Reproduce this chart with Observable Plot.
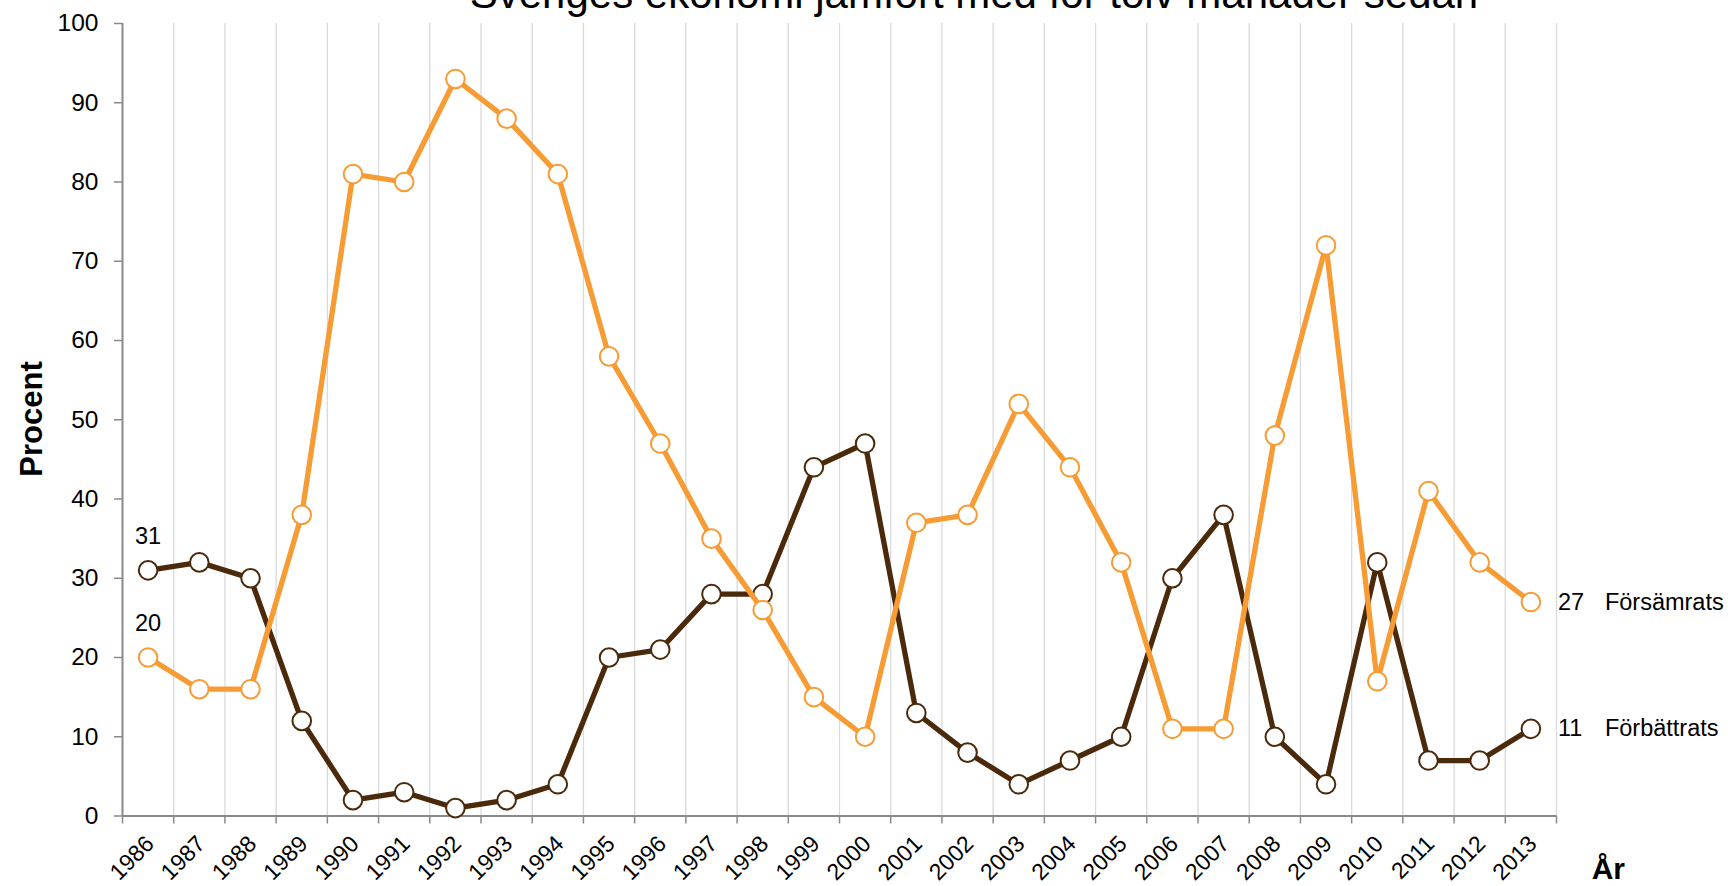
<!DOCTYPE html>
<html>
<head>
<meta charset="utf-8">
<script src="https://cdn.jsdelivr.net/npm/d3@7"></script>
<script src="https://cdn.jsdelivr.net/npm/@observablehq/plot@0.6"></script>
<style>
  html, body { margin: 0; padding: 0; background: #fff; overflow: hidden; }
  svg { display: block; }
</style>
</head>
<body>
<div id="chart"></div>
<script>
const titleText = "Sveriges ekonomi jämfört med för tolv månader sedan";
const yLabel = "Procent";
const xLabel = "År";
const years = [1986,1987,1988,1989,1990,1991,1992,1993,1994,1995,1996,1997,1998,1999,2000,2001,2002,2003,2004,2005,2006,2007,2008,2009,2010,2011,2012,2013];
const forbattrats = [31,32,30,12,2,3,1,2,4,20,21,28,28,44,47,13,8,4,7,10,30,38,10,4,32,7,7,11];
const forsamrats = [20,16,16,38,81,80,93,88,81,58,47,35,26,15,10,37,38,52,44,32,11,11,48,72,17,41,32,27];
const seriesNames = ["Förbättrats", "Försämrats"];
const yTicks = [0,10,20,30,40,50,60,70,80,90,100];

const brown = "#4B2A0C";
const orange = "#F79B34";
const axisGray = "#898989";
const gridGray = "#dadada";

const rowsB = years.map((year, i) => ({year, value: forbattrats[i], series: seriesNames[0]}));
const rowsO = years.map((year, i) => ({year, value: forsamrats[i], series: seriesNames[1]}));
const boundaries = years.map(y => y - 0.5).concat([years[years.length - 1] + 0.5]);

const fontFamily = "'Liberation Sans', Arial, Helvetica, sans-serif";

const plot = Plot.plot({
  width: 1728,
  height: 886,
  marginLeft: 122,
  marginRight: 172,
  marginTop: 23,
  marginBottom: 70.5,
  x: {type: "linear", domain: [boundaries[0], boundaries[boundaries.length - 1]]},
  y: {domain: [0, 100]},
  style: {fontFamily, fontSize: "24px", background: "white", color: "black"},
  marks: [
    Plot.ruleX(boundaries.slice(1), {y1: 0, y2: 100, stroke: gridGray, strokeWidth: 1.3}),
    Plot.axisY({ticks: yTicks, tickSize: 8, tickPadding: 16, fontSize: 24.5, stroke: axisGray, strokeWidth: 1.5, fill: "black", label: null, tickFormat: d => String(d)}),
    Plot.axisX({ticks: boundaries, tickSize: 8, tickFormat: () => "", stroke: axisGray, strokeWidth: 1.5, label: null}),
    Plot.ruleX([boundaries[0]], {stroke: axisGray, strokeWidth: 2}),
    Plot.ruleY([0], {stroke: axisGray, strokeWidth: 2}),
    Plot.text(years, {x: d => d, y: () => 0, text: d => String(d), rotate: -45, textAnchor: "end", dx: 2, dy: 24, fontSize: 23, fill: "black"}),
    Plot.line(rowsB, {x: "year", y: "value", stroke: brown, strokeWidth: 5.3}),
    Plot.dot(rowsB, {x: "year", y: "value", r: 9.3, fill: "white", stroke: brown, strokeWidth: 2}),
    Plot.line(rowsO, {x: "year", y: "value", stroke: orange, strokeWidth: 5.3}),
    Plot.dot(rowsO, {x: "year", y: "value", r: 9.3, fill: "white", stroke: orange, strokeWidth: 2}),
    Plot.text([rowsB[0], rowsO[0]], {x: "year", y: "value", text: d => String(d.value), dy: -34, fontSize: 23.5, fill: "black"}),
    Plot.text([rowsB[rowsB.length - 1], rowsO[rowsO.length - 1]], {x: "year", y: "value", text: d => String(d.value), textAnchor: "start", dx: 27, fontSize: 23.5, fill: "black"}),
    Plot.text([rowsB[rowsB.length - 1], rowsO[rowsO.length - 1]], {x: "year", y: "value", text: "series", textAnchor: "start", dx: 74, fontSize: 23.5, fill: "black"})
  ]
});

const svg = d3.select(plot);
svg.append("text")
  .attr("x", 974).attr("y", 8)
  .attr("text-anchor", "middle")
  .style("font-family", fontFamily)
  .style("font-size", "42px")
  .attr("fill", "black")
  .text(titleText);
svg.append("text")
  .attr("transform", "translate(41.7,419) rotate(-90)")
  .attr("text-anchor", "middle")
  .style("font-family", fontFamily)
  .style("font-size", "31px")
  .style("font-weight", "bold")
  .attr("fill", "black")
  .text(yLabel);
svg.append("text")
  .attr("x", 1591.7).attr("y", 879)
  .attr("text-anchor", "start")
  .style("font-family", fontFamily)
  .style("font-size", "30px")
  .style("font-weight", "bold")
  .attr("fill", "black")
  .text(xLabel);

document.getElementById("chart").appendChild(plot);
</script>
</body>
</html>
